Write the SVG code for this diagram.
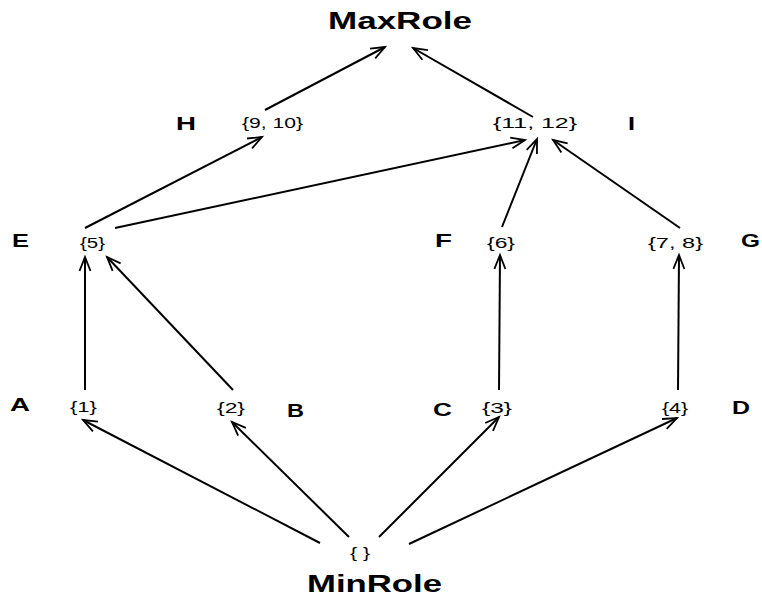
<svg xmlns="http://www.w3.org/2000/svg" width="762" height="600" viewBox="0 0 762 600">
<style>
.bg{fill:#fff}
.e{stroke:#000;stroke-width:2;fill:none;marker-end:url(#ah)}
.n{font-family:"Liberation Sans",Arial,sans-serif;font-size:15px;fill:#000;text-anchor:middle}
.l{font-family:"Liberation Sans",Arial,sans-serif;font-size:19px;font-weight:bold;fill:#000}
.t{font-family:"Liberation Sans",Arial,sans-serif;font-size:23px;font-weight:bold;fill:#000}
</style>
<defs>
<marker id="ah" markerUnits="userSpaceOnUse" markerWidth="18" markerHeight="14" refX="15" refY="7" orient="auto">
<path d="M1,1.5 L15,7 L1,12.5" fill="none" stroke="#000" stroke-width="1.8"/>
</marker>
</defs>
<rect class="bg" width="762" height="600"/>
<g id="connectors">
<line class="e" x1="265" y1="110" x2="385" y2="47"/>
<line class="e" x1="533" y1="117" x2="413" y2="48"/>
<line class="e" x1="85" y1="228" x2="262" y2="137"/>
<line class="e" x1="115" y1="228" x2="525" y2="140"/>
<line class="e" x1="502" y1="227" x2="537" y2="139"/>
<line class="e" x1="680" y1="228" x2="553" y2="140"/>
<line class="e" x1="85" y1="390" x2="85" y2="257"/>
<line class="e" x1="233" y1="390" x2="107" y2="257"/>
<line class="e" x1="499" y1="390" x2="500" y2="255"/>
<line class="e" x1="678" y1="390" x2="679" y2="255"/>
<line class="e" x1="320" y1="543" x2="83" y2="420"/>
<line class="e" x1="349" y1="537" x2="232" y2="422"/>
<line class="e" x1="379" y1="537" x2="499" y2="417"/>
<line class="e" x1="409" y1="544" x2="677" y2="418"/>
</g>
<g id="maxrole"><text class="t" x="328" y="29" textLength="144" lengthAdjust="spacingAndGlyphs">MaxRole</text></g>
<g id="H"><text class="l" x="176" y="130" textLength="20" lengthAdjust="spacingAndGlyphs">H</text><text class="n" x="272.5" y="128" textLength="61" lengthAdjust="spacingAndGlyphs">{9, 10}</text></g>
<g id="I"><text class="n" x="535" y="128" textLength="84" lengthAdjust="spacingAndGlyphs">{11, 12}</text><text class="l" x="628" y="130" textLength="7" lengthAdjust="spacingAndGlyphs">I</text></g>
<g id="E"><text class="l" x="12" y="247" textLength="17" lengthAdjust="spacingAndGlyphs">E</text><text class="n" x="92.5" y="248" textLength="25" lengthAdjust="spacingAndGlyphs">{5}</text></g>
<g id="F"><text class="l" x="435" y="247" textLength="17" lengthAdjust="spacingAndGlyphs">F</text><text class="n" x="501" y="248" textLength="28" lengthAdjust="spacingAndGlyphs">{6}</text></g>
<g id="G"><text class="n" x="675.5" y="248" textLength="55" lengthAdjust="spacingAndGlyphs">{7, 8}</text><text class="l" x="741" y="247" textLength="19" lengthAdjust="spacingAndGlyphs">G</text></g>
<g id="A"><text class="l" x="10" y="411" textLength="20" lengthAdjust="spacingAndGlyphs">A</text><text class="n" x="83.5" y="412" textLength="27" lengthAdjust="spacingAndGlyphs">{1}</text></g>
<g id="B"><text class="n" x="231" y="413" textLength="28" lengthAdjust="spacingAndGlyphs">{2}</text><text class="l" x="287" y="417" textLength="17" lengthAdjust="spacingAndGlyphs">B</text></g>
<g id="C"><text class="l" x="433" y="416" textLength="19" lengthAdjust="spacingAndGlyphs">C</text><text class="n" x="497" y="413" textLength="30" lengthAdjust="spacingAndGlyphs">{3}</text></g>
<g id="D"><text class="n" x="675" y="413" textLength="26" lengthAdjust="spacingAndGlyphs">{4}</text><text class="l" x="732" y="414" textLength="18" lengthAdjust="spacingAndGlyphs">D</text></g>
<g id="minrole"><text class="n" x="360" y="558" textLength="20" lengthAdjust="spacingAndGlyphs">{ }</text><text class="t" x="307" y="592" textLength="135" lengthAdjust="spacingAndGlyphs">MinRole</text></g>
</svg>
